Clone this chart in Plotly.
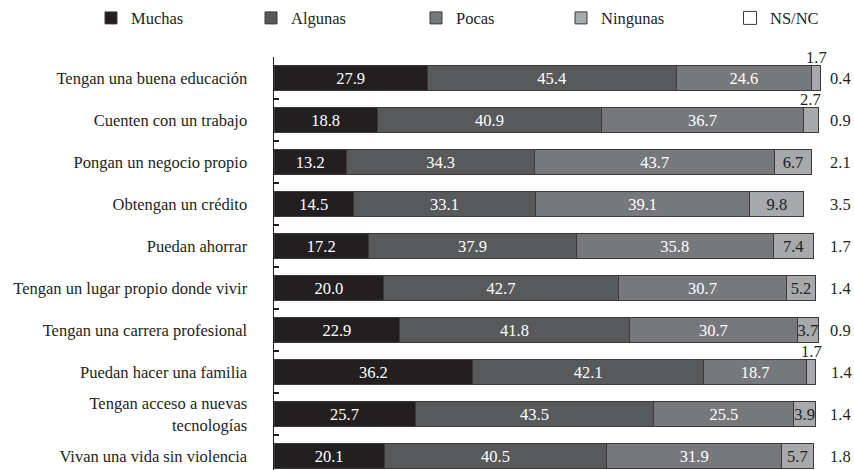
import plotly.graph_objects as go

categories = [
    "Tengan una buena educación",
    "Cuenten con un trabajo",
    "Pongan un negocio propio",
    "Obtengan un crédito",
    "Puedan ahorrar",
    "Tengan un lugar propio donde vivir",
    "Tengan una carrera profesional",
    "Puedan hacer una familia",
    "Tengan acceso a nuevas<br>tecnologías",
    "Vivan una vida sin violencia",
]
muchas = [27.9, 18.8, 13.2, 14.5, 17.2, 20.0, 22.9, 36.2, 25.7, 20.1]
algunas = [45.4, 40.9, 34.3, 33.1, 37.9, 42.7, 41.8, 42.1, 43.5, 40.5]
pocas = [24.6, 36.7, 43.7, 39.1, 35.8, 30.7, 30.7, 18.7, 25.5, 31.9]
ningunas = [1.7, 2.7, 6.7, 9.8, 7.4, 5.2, 3.7, 1.7, 3.9, 5.7]
nsnc = [0.4, 0.9, 2.1, 3.5, 1.7, 1.4, 0.9, 1.4, 1.4, 1.8]

FONT = "Liberation Serif"
FS = 16.5
DARK = "#231f20"
EDGE = "#3a3a3a"
W, H = 854, 470

def fmt(vals, minimum=0):
    return [f"{v:.1f}" if v >= minimum else "" for v in vals]

fig = go.Figure()
series = [
    ("Muchas", muchas, "#231f20", "white", "legend"),
    ("Algunas", algunas, "#58595b", "white", "legend2"),
    ("Pocas", pocas, "#77787b", "white", "legend3"),
    ("Ningunas", ningunas, "#a7a9ac", DARK, "legend4"),
]
for name, vals, col, tcol, lg in series:
    fig.add_trace(go.Bar(
        y=categories, x=vals, name=name, orientation="h",
        marker=dict(color=col, line=dict(color=EDGE, width=1)),
        text=fmt(vals, 3 if name == "Ningunas" else 0),
        textposition="inside", insidetextanchor="middle", textangle=0,
        constraintext="none",
        textfont=dict(family=FONT, size=FS, color=tcol),
        legend=lg, hoverinfo="skip", showlegend=True,
    ))

# NS/NC: not drawn as a visible segment, only its value to the right of each bar
fig.add_trace(go.Scatter(
    x=[None], y=[None], mode="markers", name="NS/NC",
    marker=dict(symbol="square", size=13, color="white", line=dict(color=EDGE, width=1)),
    legend="legend5", hoverinfo="skip", showlegend=True,
))

for i in range(len(categories)):
    total = round(muchas[i] + algunas[i] + pocas[i] + ningunas[i] + nsnc[i], 1)
    fig.add_annotation(
        x=total, y=i, text=f"{nsnc[i]:.1f}", showarrow=False,
        xanchor="left", yanchor="middle", xshift=5,
        font=dict(family=FONT, size=FS, color=DARK),
    )
    v = ningunas[i]
    if v < 3:
        base = muchas[i] + algunas[i] + pocas[i]
        fig.add_annotation(
            x=base + v / 2, y=i - 0.5, text=f"{v:.1f}", showarrow=False,
            xanchor="center", yanchor="middle",
            font=dict(family=FONT, size=FS, color=DARK),
        )

legend_px = [91, 251, 416, 561, 730]
leg_common = dict(orientation="h", yanchor="middle", y=1.094, xanchor="left",
                  font=dict(family=FONT, size=FS, color=DARK), bgcolor="rgba(0,0,0,0)")
layout_legends = {}
for k, px in enumerate(legend_px):
    key = "legend" if k == 0 else f"legend{k+1}"
    layout_legends[key] = dict(x=px / W, **leg_common)

fig.update_layout(
    width=W, height=H,
    barmode="stack", bargap=0.4, showlegend=True,
    margin=dict(l=0, r=0, t=57, b=0, autoexpand=False),
    plot_bgcolor="white", paper_bgcolor="white",
    font=dict(family=FONT, size=FS, color=DARK),
    xaxis=dict(range=[0, 100.5], domain=[274 / W, (274 + 551.7) / W],
               visible=False, fixedrange=True),
    yaxis=dict(
        type="category", range=[9.333, -0.5], showline=True, linecolor=DARK, linewidth=1.5,
        ticks="inside", ticklen=5, tickcolor=DARK, tickwidth=1.5, tickson="boundaries",
        showgrid=False, zeroline=False, ticklabelstandoff=22, fixedrange=True,
        tickfont=dict(family=FONT, size=FS, color=DARK), automargin=False,
    ),
    **layout_legends,
)

fig.write_html("out.html", config={"staticPlot": True, "displayModeBar": False},
               post_script="document.body.style.margin='0';")
